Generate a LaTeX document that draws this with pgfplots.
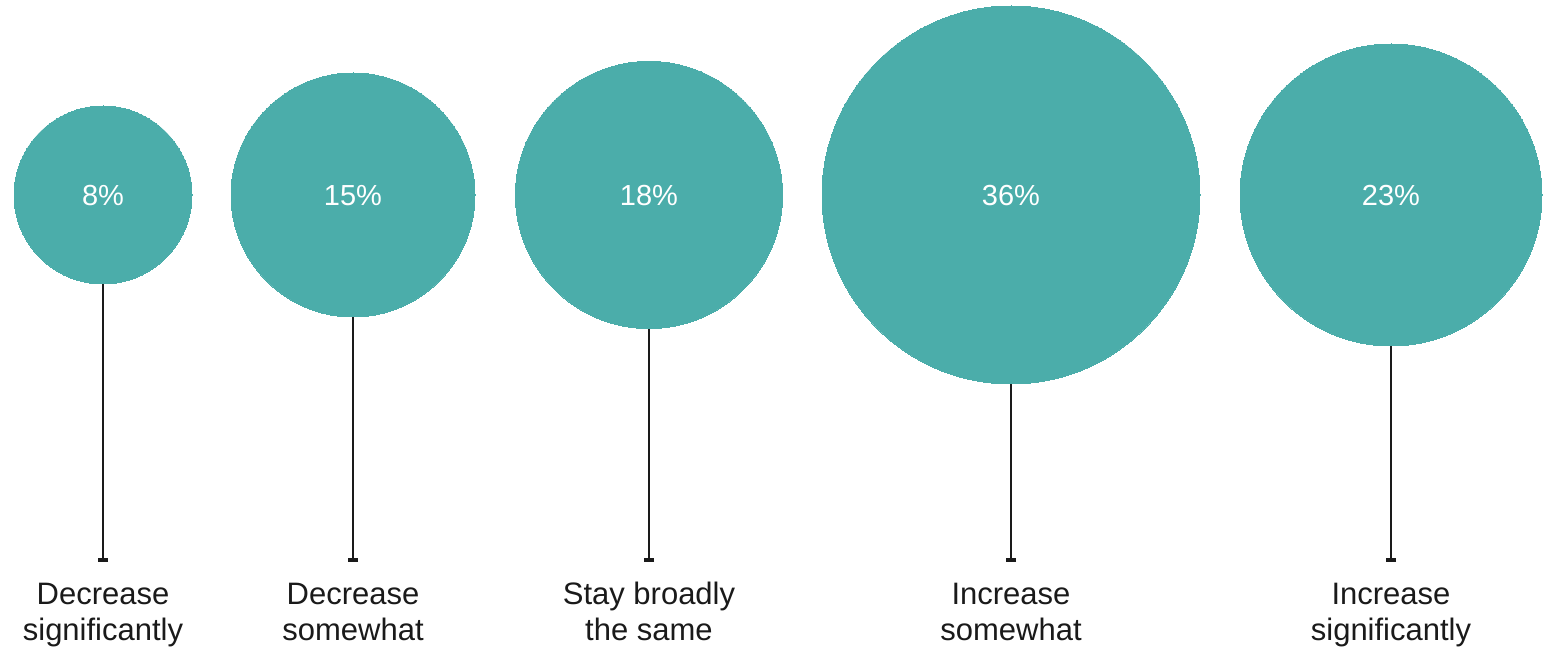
\documentclass[border=0pt]{standalone}
\usepackage{pgfplots}
\pgfplotsset{compat=1.18}
\usepackage{pgfplotstable}
\usepackage{fontspec}
\setmainfont{Liberation Sans}
\definecolor{teal1}{HTML}{4BADAA}
\definecolor{ink}{HTML}{1A1A1A}
\pgfplotstableread[col sep=comma]{
x,v,r,yc,yb,e,la,lb
103,8,44.5,451,86,365,Decrease,significantly
353,15,61.0,451,86,365,Decrease,somewhat
649,18,66.8,451,86,365,Stay broadly,the same
1011,36,94.5,451,86,365,Increase,somewhat
1391,23,75.5,451,86,365,Increase,significantly
}\data
\begin{document}
\begin{tikzpicture}
\begin{axis}[
  x=0.5pt, y=0.5pt,
  xmin=0, xmax=1555, ymin=0, ymax=646,
  hide axis, clip=false,
  anchor=south west, at={(0,0)},
  /pgf/number format/assume math mode=true,
]
% stems
\addplot[draw=none, mark=none, forget plot,
  error bars/.cd, y dir=minus, y explicit,
  error bar style={line width=0.65pt, color=ink},
  error mark=|, error mark options={line width=2pt, mark size=2.5pt, color=ink}]
  table[x=x, y=yc, y error=e] {\data};
% circles (radius in pt = column r)
\addplot[scatter, only marks, mark=*,
  mark options={draw=teal1, fill=teal1, line width=0pt},
  point meta=explicit, point meta min=0, point meta max=1000,
  scatter/@pre marker code/.code={%
    \pgfmathsetmacro\rad{\pgfplotspointmetatransformed}%
    \scope[mark size=\rad pt, fill=teal1, draw=teal1, line width=0pt]},
  scatter/@post marker code/.code={\endscope},
] table[x=x, y=yc, meta=r] {\data};
% percentages
\addplot[only marks, mark=*, mark size=0pt, mark options={draw=none, fill=none},
  point meta=explicit,
  nodes near coords={\pgfmathprintnumber{\pgfplotspointmeta}\%},
  every node near coord/.append style={anchor=center, yshift=-0.5pt, text=white, font=\fontsize{14.5pt}{17pt}\selectfont},
] table[x=x, y=yc, meta=v] {\data};
% labels, first line
\addplot[only marks, mark=*, mark size=0pt, mark options={draw=none, fill=none},
  point meta=explicit symbolic, nodes near coords,
  every node near coord/.append style={anchor=base, text=ink, inner sep=0pt, yshift=-22.3pt, font=\fontsize{15.5pt}{18pt}\selectfont},
] table[x=x, y=yb, meta=la] {\data};
% labels, second line
\addplot[only marks, mark=*, mark size=0pt, mark options={draw=none, fill=none},
  point meta=explicit symbolic, nodes near coords,
  every node near coord/.append style={anchor=base, text=ink, inner sep=0pt, yshift=-40.3pt, font=\fontsize{15.5pt}{18pt}\selectfont},
] table[x=x, y=yb, meta=lb] {\data};
\end{axis}
\path (current axis.south west) rectangle (current axis.north east);
\end{tikzpicture}
\end{document}
